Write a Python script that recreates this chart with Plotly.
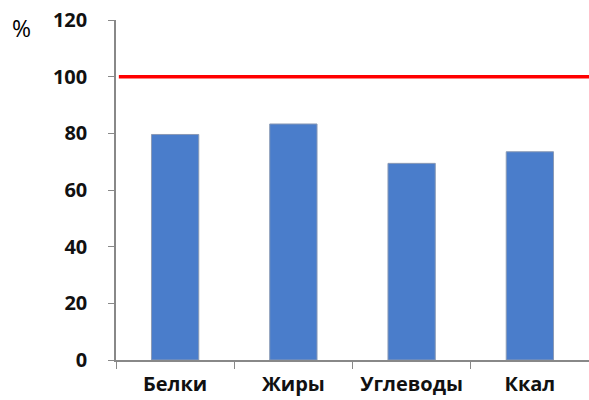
import plotly.graph_objects as go

categories = ["Белки", "Жиры", "Углеводы", "Ккал"]
values = [79.6, 83.3, 69.4, 73.5]
reference_level = 100
y_ticks = [0, 20, 40, 60, 80, 100, 120]

fig = go.Figure()
fig.add_trace(go.Bar(
    x=categories, y=values, width=0.4,
    marker=dict(color="#4a7dcb", line=dict(color="#8a9ab5", width=1)),
))
fig.add_shape(type="line", xref="paper", x0=0.006, x1=1, yref="y",
              y0=reference_level, y1=reference_level,
              line=dict(color="#ff0000", width=3.5))
fig.add_annotation(text="%", xref="paper", yref="paper", x=-0.225, y=0.976,
                   xanchor="left", yanchor="middle", showarrow=False,
                   font=dict(size=23, color="#000", family="Open Sans"))
fig.update_layout(
    width=589, height=400,
    margin=dict(l=116, r=0, t=20, b=40),
    plot_bgcolor="white", paper_bgcolor="white",
    showlegend=False, bargap=0.6,
    font=dict(family="Open Sans", color="#111"),
)
fig.update_yaxes(range=[0, 120], tickvals=y_ticks, showgrid=False,
                 showline=True, linecolor="#888", linewidth=1.5,
                 ticks="outside", ticklen=6, tickcolor="#888",
                 tickfont=dict(size=20, family="Open Sans", weight="bold"),
                 ticklabelstandoff=17, zeroline=False, automargin=False)
fig.update_xaxes(showgrid=False, showline=True, linecolor="#888", linewidth=1.5,
                 ticks="outside", ticklen=7, tickcolor="#888",
                 tickson="boundaries",
                 tickfont=dict(size=20, family="Open Sans", weight="bold"),
                 ticklabelstandoff=5, automargin=False)
fig.write_html("out.html")
